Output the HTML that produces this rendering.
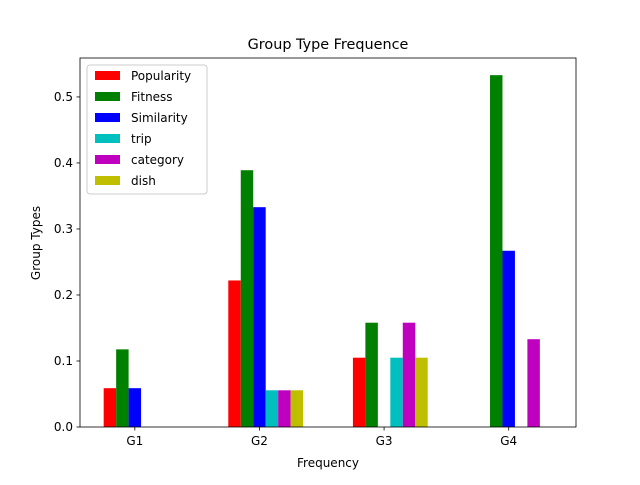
<!DOCTYPE html>
<html><head><meta charset="utf-8"><style>
body{margin:0;background:#fff;font-family:"Liberation Sans","DejaVu Sans",sans-serif}
</style></head><body>
<svg id="chart" width="640" height="480" xmlns="http://www.w3.org/2000/svg" font-family="DejaVu Sans, Liberation Sans, sans-serif">
<rect width="640" height="480" fill="#fff"/>
<text x="328" y="49" text-anchor="middle" font-size="14.4">Group Type Frequence</text>
<g id="bars"></g>
<g id="axes"></g>
<text x="328" y="467" text-anchor="middle" font-size="12">Frequency</text>
<text transform="translate(40,243) rotate(-90)" text-anchor="middle" font-size="12">Group Types</text>
<g id="legend"></g>
</svg>
<script>
const categories=["G1","G2","G3","G4"];
const seriesNames=["Popularity","Fitness","Similarity","trip","category","dish"];
const seriesColors=["#ff0000","#008000","#0000ff","#00bfbf","#bf00bf","#bfbf00"];
const popularity=[0.0588,0.222,0.105,0];
const fitness=[0.1176,0.389,0.158,0.533];
const similarity=[0.0588,0.333,0,0.267];
const trip=[0,0.0556,0.105,0];
const category=[0,0.0556,0.158,0.133];
const dish=[0,0.0556,0.105,0];
const yTicks=[0,0.1,0.2,0.3,0.4,0.5];
const series=[popularity,fitness,similarity,trip,category,dish];
const NS="http://www.w3.org/2000/svg";
const L=80,R=576,T=58,B=427,xmin=-0.44,xmax=3.54,ymax=0.559;
const xs=v=>L+(v-xmin)/(xmax-xmin)*(R-L);
const ys=v=>B-v/ymax*(B-T);
function mk(tag,attrs,parent){const e=document.createElementNS(NS,tag);for(const k in attrs)e.setAttribute(k,attrs[k]);parent.appendChild(e);return e;}
const bars=document.getElementById('bars'),axes=document.getElementById('axes'),leg=document.getElementById('legend');
const w=0.1;
series.forEach((s,si)=>{s.forEach((v,ci)=>{
  const c=ci+(si-2)*w;
  const r=mk('rect',{x:xs(c-w/2),y:ys(v),width:xs(c+w/2)-xs(c-w/2),height:ys(0)-ys(v),fill:seriesColors[si]},bars);
  
  
});});
const frame=mk('rect',{x:L,y:T,width:R-L,height:B-T,fill:'none',stroke:'#000','stroke-width':0.8},axes);


categories.forEach((c,i)=>{
  const x=xs(i);
  mk('line',{x1:x,x2:x,y1:B,y2:B+3.5,stroke:'#000','stroke-width':0.8},axes);
  const t=mk('text',{x:x,y:B+18,'text-anchor':'middle','font-size':12},axes);
  t.textContent=c;
  
  
});
yTicks.forEach(v=>{
  const y=ys(v);
  mk('line',{x1:L-3.5,x2:L,y1:y,y2:y,stroke:'#000','stroke-width':0.8},axes);
  const t=mk('text',{x:L-7,y:y+4,'text-anchor':'end','font-size':12},axes);
  t.textContent=v.toFixed(1);
  
  
});
const box=mk('rect',{x:87,y:65,width:120,height:129,fill:'#fff','fill-opacity':0.8,stroke:'#ccc',rx:3},leg);


seriesNames.forEach((n,i)=>{
  const y=76+i*21;
  const g=mk('g',{},leg);
  
  
  mk('rect',{x:95,y:y-5,width:25,height:9,fill:seriesColors[i]},g);
  const t=mk('text',{x:131,y:y+4,'font-size':12},g);
  t.textContent=n;
});
</script>
</body></html>
